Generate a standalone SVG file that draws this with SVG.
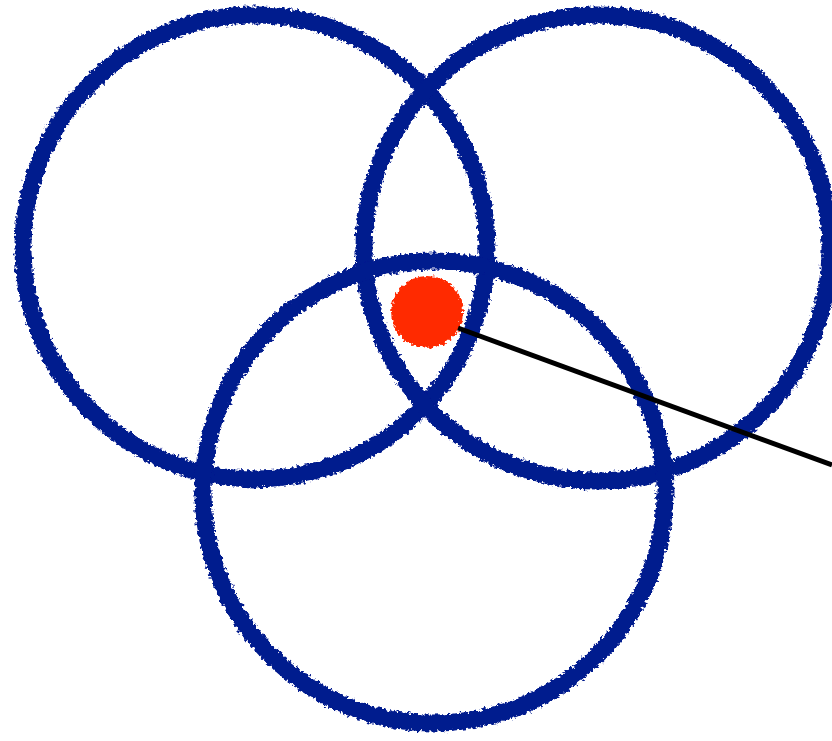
<svg xmlns="http://www.w3.org/2000/svg" width="832" height="741" viewBox="0 0 832 741">
  <style>
    .ring { fill: none; stroke: #001a8e; stroke-width: 17; filter: url(#rough); }
    .dot { fill: #ff2a00; filter: url(#rough); }
    .conn { stroke: #000000; stroke-width: 5; fill: none; }
  </style>
  <defs>
    <filter id="rough" x="-10%" y="-10%" width="120%" height="120%">
      <feTurbulence type="fractalNoise" baseFrequency="0.3" numOctaves="2" seed="3" result="noise"/>
      <feDisplacementMap in="SourceGraphic" in2="noise" scale="7" xChannelSelector="R" yChannelSelector="G"/>
    </filter>
  </defs>
  <rect width="832" height="741" fill="#ffffff"/>
  <g id="circle-top-left">
    <circle class="ring" cx="255" cy="247" r="232"/>
  </g>
  <g id="circle-top-right">
    <circle class="ring" cx="597" cy="248" r="233"/>
  </g>
  <g id="circle-bottom">
    <circle class="ring" cx="434" cy="492" r="231"/>
  </g>
  <g id="point">
    <circle class="dot" cx="427" cy="312" r="36"/>
  </g>
  <g id="connectors">
    <line class="conn" x1="458" y1="328" x2="832" y2="465"/>
  </g>
</svg>
